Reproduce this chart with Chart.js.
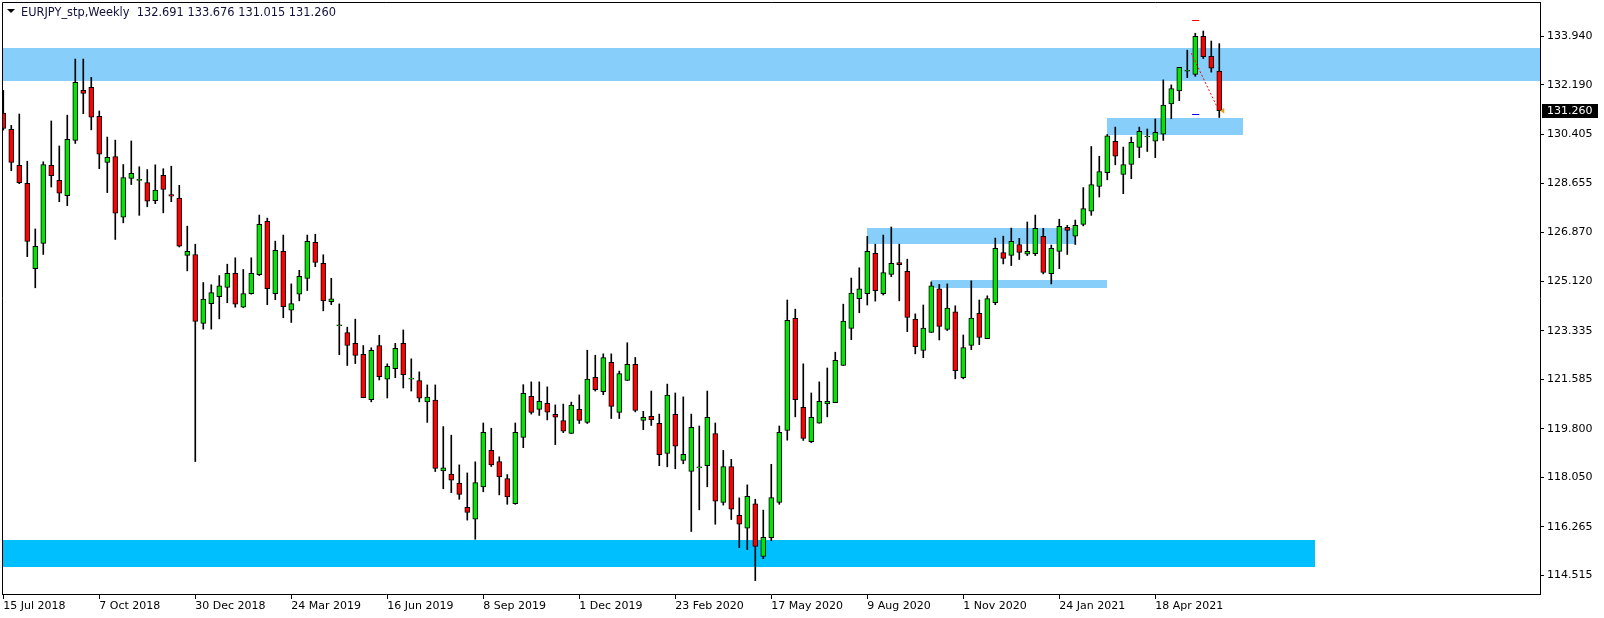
<!DOCTYPE html>
<html>
<head>
<meta charset="utf-8">
<title>EURJPY_stp, Weekly</title>
<script src="https://cdn.jsdelivr.net/npm/chart.js@4.4.1/dist/chart.umd.min.js"></script>
<style>
  html, body { margin: 0; padding: 0; background: #fff; overflow: hidden; }
</style>
</head>
<body>
<canvas id="chart" width="1604" height="618"></canvas>
<script>
// weekly candles, 15 Jul 2018 .. 6 Jun 2021
const opens = [
  131.17,130.59,129.29,128.64,125.57,126.48,129.29,128.75,128.20,130.19,
  131.99,132.10,131.06,129.40,129.61,127.42,128.82,128.77,128.67,128.02,
  128.93,128.24,128.11,126.05,126.08,123.60,124.31,124.56,124.89,125.40,
  124.18,124.67,125.35,127.27,124.67,126.19,124.07,124.65,125.22,126.52,
  125.76,124.38,123.53,123.27,122.88,122.48,120.85,122.80,121.59,121.97,
  122.88,121.61,121.54,120.77,120.83,118.28,118.17,117.84,116.97,116.54,
  117.71,119.02,118.62,118.01,117.10,119.49,120.97,120.50,120.72,120.32,
  120.10,119.63,120.50,120.03,121.65,121.14,122.19,120.39,121.54,122.12,
  120.10,120.25,120.00,118.91,120.32,118.66,118.26,118.41,118.47,119.63,
  117.15,118.44,116.68,116.22,117.10,115.20,115.88,117.15,119.74,123.78,
  120.57,119.34,120.00,120.70,120.74,122.08,123.42,124.49,124.67,126.12,
  124.67,125.36,125.79,125.47,123.75,122.62,123.27,124.84,123.38,124.01,
  121.64,122.80,123.96,123.05,124.34,126.15,126.05,126.44,126.09,126.11,
  126.73,125.39,126.19,127.06,126.74,127.16,127.64,128.53,129.03,130.16,
  128.96,129.32,129.94,130.33,130.16,130.41,131.50,131.97,132.70,132.57,
  133.94,133.22,132.691
];
const highs = [
  131.99,130.73,131.14,129.44,127.00,129.42,130.89,129.99,131.10,133.12,
  133.12,132.46,131.25,130.31,130.20,129.32,130.17,129.24,129.14,129.31,
  129.17,129.26,128.57,127.10,126.45,125.07,124.99,125.32,125.73,125.96,
  125.54,125.96,127.50,127.39,126.56,126.78,125.02,125.51,126.78,126.81,
  126.07,125.22,124.30,123.46,123.75,122.80,122.72,123.17,122.14,122.88,
  123.36,122.32,121.85,121.38,121.38,119.88,119.57,118.50,118.21,118.61,
  120.01,119.82,118.79,118.15,120.01,121.39,121.49,121.49,121.31,120.66,
  120.69,120.76,121.02,122.63,122.45,122.50,122.50,121.88,122.90,122.37,
  120.43,121.16,120.33,121.41,121.09,120.95,120.33,119.90,121.16,120.01,
  119.02,118.70,117.31,117.78,117.26,116.87,118.52,119.90,124.44,124.11,
  122.14,121.09,121.49,121.99,122.56,124.29,125.23,125.60,126.73,126.45,
  126.78,127.07,126.45,125.91,123.94,124.26,125.09,125.00,125.02,124.23,
  123.18,125.13,124.44,124.59,126.67,126.74,127.03,126.66,127.25,127.50,
  127.02,126.42,127.35,127.13,127.32,128.49,129.97,129.62,130.40,130.67,
  129.95,130.31,130.67,130.60,130.96,132.37,132.19,132.82,133.44,134.05,
  134.13,133.77,133.676
];
const lows = [
  130.56,129.10,128.63,126.00,124.88,126.08,128.51,127.98,127.84,130.08,
  131.15,130.57,129.17,128.31,126.62,127.22,128.60,127.49,127.80,127.91,
  127.58,127.98,126.35,125.49,118.62,123.39,123.39,123.76,124.34,124.18,
  124.16,124.65,125.32,124.27,124.45,123.80,123.63,124.41,124.78,125.64,
  124.05,124.27,122.47,122.08,122.15,120.92,120.77,121.56,120.91,121.64,
  121.27,121.16,120.77,120.03,118.26,117.64,117.50,117.26,116.51,115.82,
  117.53,118.44,117.42,117.08,117.08,119.12,120.33,120.28,120.12,119.23,
  119.66,119.63,119.99,119.99,121.16,121.03,120.17,120.17,121.54,120.41,
  119.77,119.92,118.47,118.43,118.36,118.54,116.10,116.88,117.71,116.36,
  117.05,116.53,115.52,115.45,114.33,115.12,115.77,117.08,119.39,120.23,
  119.38,119.30,120.00,120.23,120.74,122.08,123.01,123.98,124.26,124.40,
  124.62,125.28,124.41,123.30,122.50,122.36,123.27,123.00,123.34,121.60,
  121.60,122.65,122.83,123.05,124.27,125.74,125.68,125.90,126.04,126.04,
  125.38,125.02,125.57,126.08,126.44,127.11,127.49,128.15,128.77,129.31,
  128.27,128.81,129.57,129.79,129.57,130.19,130.97,131.62,132.45,132.50,
  133.14,132.65,131.015
];
const closes = [
  130.62,129.40,128.67,126.55,126.37,129.32,128.92,128.29,130.23,132.28,
  131.88,131.03,129.69,129.58,127.57,128.85,129.00,128.77,128.00,128.40,
  128.42,128.18,126.38,126.19,123.67,124.47,124.71,124.95,125.40,124.29,
  124.67,125.40,127.17,124.85,126.23,124.20,124.31,125.29,126.55,125.79,
  124.41,124.48,123.53,122.80,122.44,120.92,122.63,121.68,122.05,122.70,
  121.75,121.61,120.90,120.94,118.37,118.39,117.95,117.44,116.79,117.86,
  119.67,118.50,118.07,117.35,119.67,121.08,120.39,120.79,120.40,120.22,
  119.71,120.65,120.10,121.59,121.21,122.37,120.61,121.79,122.12,120.46,
  120.21,120.12,118.87,121.01,119.17,118.88,119.85,118.41,120.21,117.19,
  118.44,116.90,116.36,117.37,115.56,115.89,117.32,119.67,123.71,120.85,
  119.45,120.21,120.79,120.79,122.27,123.68,124.69,124.84,126.19,124.78,
  125.43,125.76,125.71,123.81,122.76,123.43,124.95,123.49,124.15,121.89,
  122.73,123.79,123.09,124.49,126.30,125.94,126.55,126.15,126.19,127.02,
  125.43,126.30,127.09,126.95,127.13,127.73,128.60,129.07,130.35,129.62,
  129.32,130.12,130.52,130.33,130.48,131.46,132.06,132.82,132.70,133.94,
  133.21,132.79,131.260
];

// x axis labels, one every 12 weeks
const tickWeeks = [0, 12, 24, 36, 48, 60, 72, 84, 96, 108, 120, 132, 144];
const dateLabels = ['15 Jul 2018', '7 Oct 2018', '30 Dec 2018', '24 Mar 2019', '16 Jun 2019',
  '8 Sep 2019', '1 Dec 2019', '23 Feb 2020', '17 May 2020', '9 Aug 2020', '1 Nov 2020',
  '24 Jan 2021', '18 Apr 2021'];
const priceTicks = [133.940, 132.190, 130.405, 128.655, 126.870, 125.120, 123.335,
  121.585, 119.800, 118.050, 116.265, 114.515];
const lastPrice = 131.260;
const titleText = 'EURJPY_stp,Weekly  132.691 133.676 131.015 131.260';

// supply / demand zones (price range, week range)
const zoneHigh = [133.51, 115.81, 127.03, 125.16, 131.00];
const zoneLow = [132.34, 114.82, 126.45, 124.88, 130.40];
const zoneFrom = [-5, -5, 108, 116, 138];
const zoneTo = [400, 164, 134, 138, 155];

// trade line and order marks on the last weeks
const tradeWeeks = [148.5, 151.8];
const tradePrices = [133.33, 131.35];
const markWeeks = [148.6, 149.5];
const markPrices = [134.52, 131.13];

const zoneColors = ['#87cefa', '#00bfff', '#87cefa', '#87cefa', '#87cefa'];
const UP = '#00e600', DOWN = '#ff0000';

const weeks = opens.map((_, i) => i);
const wickData = weeks.map(i => ({ x: i, y: [lows[i], highs[i]] }));
const bodyData = weeks.map(i => {
  let a = Math.min(opens[i], closes[i]), b = Math.max(opens[i], closes[i]);
  if (b - a < 0.03) { const m = (a + b) / 2; a = m - 0.018; b = m + 0.018; }
  return { x: i, y: [a, b] };
});
const bodyColors = weeks.map(i => closes[i] >= opens[i] ? UP : DOWN);

const font = { family: 'DejaVu Sans', size: 11 };

const overlay = {
  id: 'overlay',
  beforeDatasetsDraw(chart) {
    const { ctx, chartArea: a, scales: { x, y } } = chart;
    ctx.save();
    ctx.beginPath();
    ctx.rect(a.left, a.top, a.right - a.left, a.bottom - a.top);
    ctx.clip();
    zoneHigh.forEach((hi, i) => {
      const x0 = Math.max(a.left, x.getPixelForValue(zoneFrom[i]));
      const x1 = Math.min(a.right, x.getPixelForValue(zoneTo[i]));
      const y0 = Math.round(y.getPixelForValue(hi));
      const y1 = Math.round(y.getPixelForValue(zoneLow[i]));
      ctx.fillStyle = zoneColors[i];
      ctx.fillRect(Math.round(x0), y0, Math.round(x1 - x0), y1 - y0);
    });
    ctx.restore();
  },
  afterDatasetsDraw(chart) {
    const { ctx, scales: { x, y } } = chart;
    ctx.save();
    // dotted trade line
    ctx.strokeStyle = '#ff0000';
    ctx.lineWidth = 1;
    ctx.setLineDash([2, 2]);
    ctx.beginPath();
    ctx.moveTo(x.getPixelForValue(tradeWeeks[0]), y.getPixelForValue(tradePrices[0]));
    ctx.lineTo(x.getPixelForValue(tradeWeeks[1]), y.getPixelForValue(tradePrices[1]));
    ctx.stroke();
    ctx.setLineDash([]);
    // order marks
    ['#ff0000', '#0000ff'].forEach((c, i) => {
      const py = Math.round(y.getPixelForValue(markPrices[i])) + 0.5;
      ctx.strokeStyle = c;
      ctx.beginPath();
      ctx.moveTo(x.getPixelForValue(markWeeks[0]), py);
      ctx.lineTo(x.getPixelForValue(markWeeks[1]), py);
      ctx.stroke();
    });
    // close arrow
    const ax = x.getPixelForValue(opens.length - 1) + 1, ay = y.getPixelForValue(lastPrice);
    ctx.fillStyle = '#e0a020';
    ctx.beginPath();
    ctx.moveTo(ax, ay);
    ctx.lineTo(ax + 4, ay - 3);
    ctx.lineTo(ax + 4, ay + 3);
    ctx.closePath();
    ctx.fill();
    ctx.restore();
  },
  afterDraw(chart) {
    const { ctx, chartArea: a, scales: { y } } = chart;
    ctx.save();
    ctx.strokeStyle = '#000';
    ctx.lineWidth = 1;
    ctx.beginPath();
    ctx.moveTo(Math.round(a.left) + 0.5, Math.round(a.bottom));
    ctx.lineTo(Math.round(a.left) + 0.5, Math.round(a.top) + 0.5);
    ctx.lineTo(Math.round(a.right), Math.round(a.top) + 0.5);
    ctx.stroke();
    // current price box
    const py = Math.round(y.getPixelForValue(lastPrice));
    ctx.fillStyle = '#000';
    ctx.fillRect(a.right + 2, py - 7, 56, 14);
    ctx.fillStyle = '#fff';
    ctx.font = '11px "DejaVu Sans"';
    ctx.textBaseline = 'middle';
    ctx.fillText(lastPrice.toFixed(3), a.right + 7, py + 0.5);
    // title
    ctx.fillStyle = '#000';
    ctx.beginPath();
    ctx.moveTo(7, 9);
    ctx.lineTo(15, 9);
    ctx.lineTo(11, 13);
    ctx.closePath();
    ctx.fill();
    ctx.fillStyle = '#10103a';
    ctx.font = '11.4px "DejaVu Sans"';
    ctx.textBaseline = 'alphabetic';
    ctx.fillText(titleText, 21, 16);
    ctx.restore();
  }
};

new Chart(document.getElementById('chart'), {
  type: 'bar',
  data: {
    datasets: [
      {
        label: 'body',
        data: bodyData,
        backgroundColor: bodyColors,
        borderColor: '#000',
        borderWidth: 1,
        borderSkipped: false,
        barThickness: 5,
        grouped: false,
        order: 0
      },
      {
        label: 'wick',
        data: wickData,
        backgroundColor: '#000',
        borderWidth: 0,
        barThickness: 1,
        grouped: false,
        order: 1
      }
    ]
  },
  options: {
    responsive: false,
    animation: false,
    devicePixelRatio: 1,
    layout: { padding: { left: 2, top: 2, right: 0, bottom: 0 } },
    plugins: { legend: { display: false }, tooltip: { enabled: false } },
    scales: {
      x: {
        type: 'linear',
        offset: false,
        min: -0.16,
        max: 192.09,
        afterBuildTicks: s => { s.ticks = tickWeeks.map(v => ({ value: v })); },
        afterFit: s => { s.height = 24; s.paddingLeft = 0; s.paddingRight = 0; },
        grid: { offset: false, drawOnChartArea: false, drawTicks: true, tickLength: 5, color: '#000' },
        border: { display: true, color: '#000' },
        ticks: {
          autoSkip: false, maxRotation: 0, align: 'start', padding: 1,
          color: '#000', font: font,
          callback: (v, i) => dateLabels[i]
        }
      },
      y: {
        position: 'right',
        beginAtZero: false,
        min: 113.848,
        max: 135.176,
        afterBuildTicks: s => { s.ticks = priceTicks.map(v => ({ value: v })); },
        afterFit: s => { s.width = 64; s.paddingTop = 0; s.paddingBottom = 0; },
        grid: { drawOnChartArea: false, drawTicks: true, tickLength: 4, color: '#000' },
        border: { display: true, color: '#000' },
        ticks: {
          autoSkip: false, padding: 3, color: '#000', font: font,
          callback: v => Number(v).toFixed(3)
        }
      }
    }
  },
  plugins: [overlay]
});
</script>
</body>
</html>
